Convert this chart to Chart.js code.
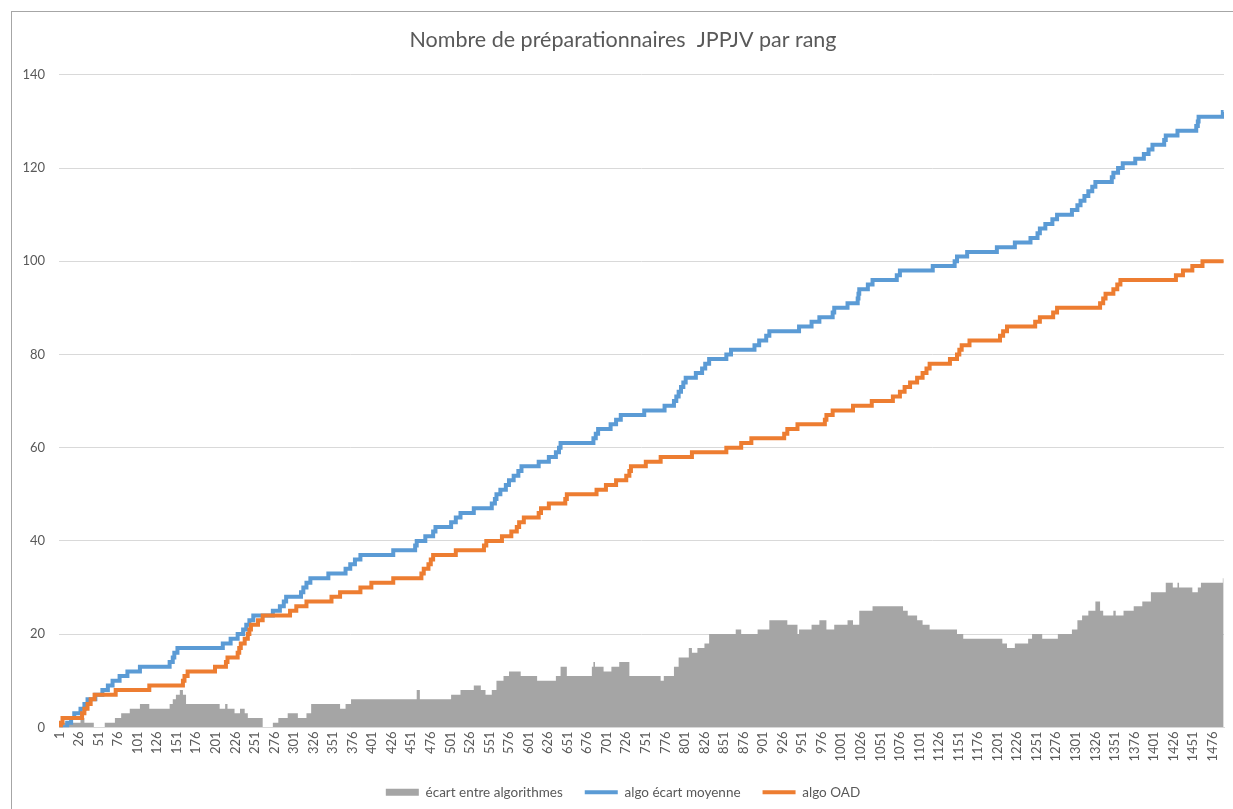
<!DOCTYPE html>
<html>
<head>
<meta charset="utf-8">
<script src="https://cdn.jsdelivr.net/npm/chart.js@4"></script>
<style>
    html, body { margin: 0; padding: 0; background: #fff; overflow: hidden; }
    #wrap { position: relative; width: 1233px; height: 809px; }
    #frame { position: absolute; left: 11px; top: 11px; width: 1300px; height: 900px; border: 1px solid #a6a6a6; pointer-events: none; }
</style>
</head>
<body>
<div id="wrap">
    <canvas id="chart" width="1233" height="809"></canvas>
    <div id="frame"></div>
</div>
<script>
// Rank where each new value starts: [rang, valeur]
const ecartSteps = [
    [1,0],[5,1],[28,2],[33,1],[45,0],[59,1],[72,2],[80,3],[91,4],[104,5],[116,4],[142,5],[146,6],[150,7],[155,8],[159,7],[163,5],
    [206,4],[213,5],[216,4],[225,3],[232,4],[238,3],[242,2],[261,0],[274,1],[281,2],[293,3],[306,2],[317,3],[323,5],[360,4],
    [367,5],[374,6],[458,8],[462,6],[502,7],[514,8],[531,9],[540,8],[546,7],[554,8],[560,10],[569,11],[576,12],[591,11],[612,10],
    [636,11],[642,13],[650,11],[682,13],[684,14],[686,13],[697,12],[707,13],[717,14],[730,11],[770,10],[774,11],[787,13],[793,15],
    [806,17],[810,16],[817,17],[826,18],[832,20],[866,21],[873,20],[894,21],[909,23],[932,22],[945,20],[947,21],[963,22],[973,23],
    [982,21],[992,22],[1009,23],[1016,22],[1024,25],[1041,26],[1080,25],[1086,24],[1098,23],[1105,22],[1114,21],[1149,20],[1157,19],
    [1207,18],[1213,17],[1223,18],[1240,19],[1245,20],[1258,19],[1278,20],[1296,21],[1303,23],[1309,24],[1317,25],[1326,27],[1332,25],
    [1336,24],[1349,25],[1352,24],[1362,25],[1375,26],[1386,27],[1397,29],[1416,31],[1425,30],[1431,31],[1433,30],[1450,29],[1457,30],
    [1461,31],[1489,32],[1490,32]
];

const moyenneSteps = [
    [1,0],[11,1],[16,2],[20,3],[28,4],[33,5],[37,6],[47,7],[56,8],[63,9],[69,10],[78,11],[88,12],[104,13],[142,14],[146,15],[148,16],
    [152,17],[210,18],[220,19],[229,20],[236,21],[240,22],[244,23],[249,24],[274,25],[283,26],[288,27],[291,28],[310,29],[313,30],
    [317,31],[322,32],[345,33],[367,34],[373,35],[379,36],[386,37],[428,38],[456,39],[458,40],[469,41],[479,42],[482,43],[502,44],
    [508,45],[514,46],[531,47],[554,48],[558,49],[560,50],[565,51],[572,52],[576,53],[582,54],[588,55],[592,56],[614,57],[627,58],
    [636,59],[640,60],[642,61],[684,62],[687,63],[690,64],[706,65],[713,66],[719,67],[749,68],[775,69],[787,70],[790,71],[793,72],
    [796,73],[799,74],[802,75],[815,76],[823,77],[827,78],[832,79],[854,80],[860,81],[890,82],[896,83],[905,84],[909,85],[947,86],
    [963,87],[973,88],[990,89],[992,90],[1009,91],[1022,92],[1023,93],[1024,94],[1035,95],[1041,96],[1072,97],[1076,98],[1118,99],
    [1146,100],[1149,101],[1162,102],[1200,103],[1223,104],[1243,105],[1252,106],[1255,107],[1262,108],[1271,109],[1277,110],
    [1296,111],[1303,112],[1307,113],[1312,114],[1317,115],[1322,116],[1326,117],[1347,118],[1349,119],[1355,120],[1361,121],
    [1377,122],[1388,123],[1394,124],[1399,125],[1414,126],[1416,127],[1431,128],[1455,129],[1457,130],[1458,131],[1489,132],[1490,132]
];

const oadSteps = [
    [1,0],[3,1],[5,2],[30,3],[33,4],[37,5],[41,6],[46,7],[73,8],[116,9],[159,10],[161,11],[165,12],[200,13],[214,14],[216,15],
    [229,16],[231,17],[233,18],[238,19],[242,20],[244,21],[246,22],[255,23],[261,24],[296,25],[304,26],[317,27],[349,28],[360,29],
    [386,30],[400,31],[428,32],[464,33],[467,34],[473,35],[476,36],[479,37],[508,38],[544,39],[547,40],[567,41],[579,42],[586,43],
    [589,44],[595,45],[614,46],[617,47],[627,48],[648,49],[650,50],[688,51],[700,52],[713,53],[726,54],[730,55],[732,56],[751,57],
    [770,58],[810,59],[854,60],[873,61],[886,62],[928,63],[932,64],[945,65],[980,66],[982,67],[990,68],[1016,69],[1040,70],[1067,71],
    [1076,72],[1082,73],[1089,74],[1098,75],[1105,76],[1110,77],[1114,78],[1140,79],[1149,80],[1152,81],[1155,82],[1165,83],[1204,84],
    [1208,85],[1213,86],[1249,87],[1255,88],[1272,89],[1277,90],[1332,91],[1336,92],[1339,93],[1349,94],[1354,95],[1358,96],[1429,97],
    [1438,98],[1450,99],[1463,100],[1490,100]
];

const rankTicks = [];
for (let r = 1; r <= 1476; r += 25) rankTicks.push(r);

const seriesNames = ['écart entre algorithmes', 'algo écart moyenne', 'algo OAD'];
const seriesColors = ['#a5a5a5', '#5b9bd5', '#ed7d31'];

const FONT = 'Lato, "Open Sans", sans-serif';
const TEXT = '#595959';

const toPoints = steps => steps.map(([x, y]) => ({ x, y }));

document.addEventListener('DOMContentLoaded', () => {
    const ctx = document.getElementById('chart');
    new Chart(ctx, {
        type: 'line',
        data: {
            datasets: [
                {
                    label: seriesNames[0],
                    data: toPoints(ecartSteps),
                    stepped: true,
                    borderWidth: 0,
                    borderColor: seriesColors[0],
                    backgroundColor: seriesColors[0],
                    fill: 'origin',
                    pointRadius: 0,
                    order: 2
                },
                {
                    label: seriesNames[1],
                    data: toPoints(moyenneSteps),
                    stepped: true,
                    borderWidth: 4,
                    borderColor: seriesColors[1],
                    backgroundColor: seriesColors[1],
                    fill: false,
                    pointRadius: 0,
                    order: 1
                },
                {
                    label: seriesNames[2],
                    data: toPoints(oadSteps),
                    stepped: true,
                    borderWidth: 4,
                    borderColor: seriesColors[2],
                    backgroundColor: seriesColors[2],
                    fill: false,
                    pointRadius: 0,
                    order: 0
                }
            ]
        },
        options: {
            responsive: false,
            animation: false,
            layout: {
                // a bit of extra left padding keeps title and legend near the frame centre
                padding: { left: 22, right: 9, top: 0, bottom: 0 }
            },
            plugins: {
                title: {
                    display: true,
                    text: 'Nombre de préparationnaires  JPPJV par rang',
                    color: TEXT,
                    font: { family: FONT, size: 21.5, weight: 'normal' },
                    padding: { top: 27, bottom: 22 }
                },
                legend: {
                    position: 'bottom',
                    labels: {
                        usePointStyle: true,
                        pointStyleWidth: 33,
                        boxHeight: 7,
                        padding: 22,
                        color: TEXT,
                        font: { family: FONT, size: 13.5 },
                        generateLabels: () => seriesNames.map((name, i) => ({
                            text: name,
                            fillStyle: seriesColors[i],
                            strokeStyle: seriesColors[i],
                            lineWidth: i === 0 ? 0 : 4,
                            pointStyle: i === 0 ? 'rect' : 'line',
                            datasetIndex: i,
                            hidden: false,
                            fontColor: TEXT
                        }))
                    }
                },
                tooltip: { enabled: false }
            },
            scales: {
                x: {
                    type: 'linear',
                    min: 0.5,
                    max: 1490.5,
                    afterBuildTicks: axis => {
                        axis.ticks = rankTicks.map(v => ({ value: v }));
                    },
                    afterFit: axis => {
                        axis.height -= 2;
                    },
                    ticks: {
                        autoSkip: false,
                        maxRotation: 90,
                        minRotation: 90,
                        padding: 4,
                        color: TEXT,
                        font: { family: FONT, size: 13 },
                        callback: v => String(v)
                    },
                    grid: { display: false, drawTicks: false },
                    border: { display: true, color: '#d9d9d9', width: 1 }
                },
                y: {
                    min: 0,
                    max: 140,
                    afterFit: axis => {
                        axis.width = 37;
                    },
                    ticks: {
                        stepSize: 20,
                        padding: 14,
                        color: TEXT,
                        font: { family: FONT, size: 13 }
                    },
                    grid: { color: '#d9d9d9', drawTicks: false },
                    border: { display: false }
                }
            }
        }
    });
});
</script>
</body>
</html>
